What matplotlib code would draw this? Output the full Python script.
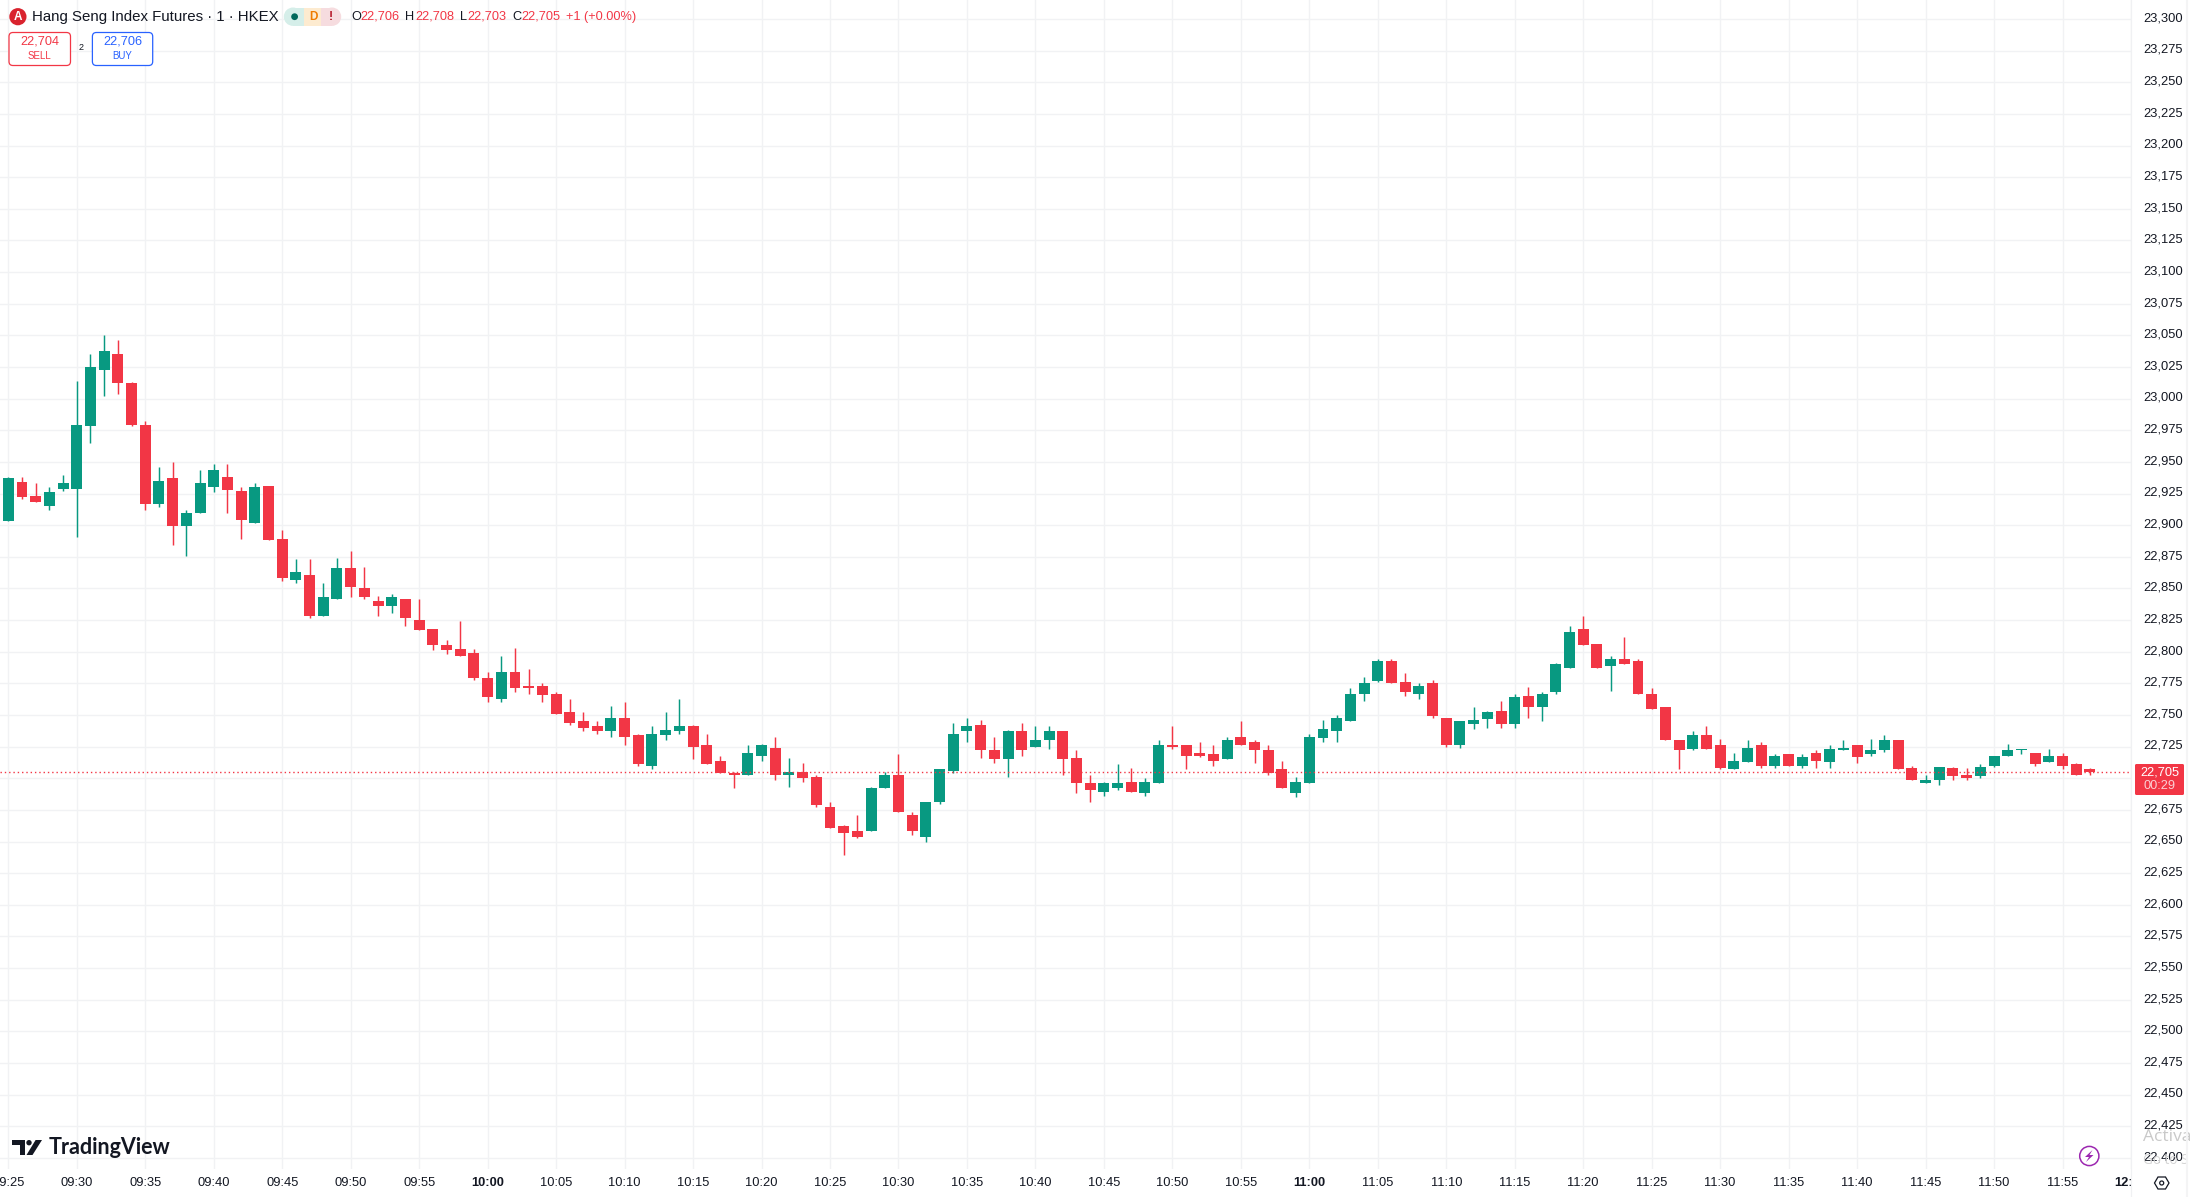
import matplotlib
matplotlib.use("Agg")
import matplotlib.pyplot as plt
from matplotlib.patches import Circle, FancyBboxPatch, Polygon, Rectangle
from matplotlib.transforms import Bbox, ScaledTranslation

opens = [22903,22934,22923,22915,22929,22929,22978,23023,23035,23012,22979,22917,22937,22899,22910,22930,22938,22927,22902,22931,
22889,22857,22861,22828,22842,22866,22850,22840,22836,22842,22825,22818,22805,22802,22799,22779,22763,22784,22773,22773,
22767,22752,22745,22741,22737,22748,22734,22710,22734,22737,22741,22726,22714,22704,22703,22718,22724,22703,22705,22701,
22677,22662,22658,22658,22692,22703,22671,22654,22681,22706,22737,22742,22722,22715,22737,22725,22730,22737,22716,22696,
22689,22692,22697,22688,22696,22726,22726,22720,22719,22715,22733,22729,22722,22707,22688,22696,22732,22737,22745,22767,
22777,22793,22776,22767,22775,22748,22726,22743,22747,22753,22743,22765,22756,22768,22787,22818,22806,22789,22794,22793,
22767,22756,22730,22723,22734,22726,22707,22713,22726,22710,22719,22710,22720,22713,22722,22726,22719,22722,22730,22708,
22696,22699,22708,22703,22702,22710,22718,22722,22720,22713,22718,22711,22707]
highs = [22938,22938,22933,22930,22940,23014,23035,23050,23046,23013,22982,22946,22950,22912,22944,22948,22948,22930,22933,22931,
22896,22873,22873,22854,22874,22880,22867,22844,22846,22842,22842,22818,22809,22824,22802,22784,22797,22803,22786,22775,
22768,22763,22752,22745,22757,22760,22735,22741,22752,22763,22742,22735,22718,22705,22726,22727,22733,22716,22712,22703,
22681,22663,22671,22693,22705,22719,22673,22681,22707,22744,22748,22746,22733,22738,22744,22741,22741,22737,22722,22703,
22697,22711,22708,22700,22730,22741,22726,22729,22726,22733,22745,22730,22726,22714,22701,22735,22746,22750,22771,22780,
22794,22794,22783,22775,22778,22748,22745,22756,22753,22761,22767,22772,22768,22791,22820,22828,22806,22797,22812,22794,
22771,22756,22730,22737,22741,22731,22720,22730,22729,22719,22719,22719,22722,22726,22730,22726,22731,22734,22730,22710,
22703,22709,22709,22708,22711,22718,22727,22723,22720,22723,22720,22712,22708]
lows = [22903,22921,22918,22912,22927,22891,22965,23002,23004,22978,22912,22914,22884,22876,22910,22926,22910,22889,22902,22888,
22856,22854,22827,22828,22842,22843,22842,22828,22831,22820,22817,22801,22798,22797,22778,22760,22760,22768,22767,22760,
22751,22742,22737,22735,22733,22726,22710,22707,22730,22735,22715,22711,22704,22692,22703,22714,22699,22693,22697,22677,
22661,22639,22653,22658,22692,22673,22655,22650,22680,22704,22729,22716,22712,22701,22718,22725,22723,22703,22688,22681,
22686,22691,22689,22686,22696,22723,22707,22717,22710,22715,22726,22712,22703,22692,22685,22696,22729,22729,22745,22761,
22776,22775,22765,22763,22748,22725,22724,22739,22740,22740,22740,22748,22745,22767,22787,22805,22787,22769,22790,22767,
22755,22730,22707,22722,22723,22707,22707,22713,22708,22708,22710,22708,22708,22708,22722,22712,22718,22721,22707,22699,
22696,22695,22699,22699,22700,22709,22718,22719,22710,22713,22707,22703,22703]
closes = [22937,22922,22918,22926,22933,22979,23025,23038,23012,22979,22917,22935,22899,22910,22933,22944,22928,22904,22930,22888,
22858,22863,22828,22843,22866,22851,22843,22836,22843,22827,22817,22805,22801,22797,22779,22764,22784,22771,22771,22766,
22751,22744,22740,22737,22748,22733,22711,22735,22738,22741,22725,22711,22704,22703,22720,22726,22703,22705,22700,22679,
22661,22657,22654,22692,22703,22673,22658,22681,22707,22735,22741,22722,22715,22737,22722,22730,22737,22715,22696,22691,
22696,22696,22689,22697,22726,22725,22718,22718,22714,22730,22726,22722,22704,22692,22697,22733,22739,22748,22767,22775,
22793,22775,22768,22773,22749,22726,22745,22746,22752,22743,22764,22756,22767,22790,22816,22805,22787,22794,22790,22767,
22755,22730,22722,22734,22723,22708,22714,22724,22710,22718,22710,22717,22714,22723,22724,22717,22722,22730,22707,22699,
22699,22709,22702,22700,22709,22718,22722,22722,22711,22718,22710,22703,22705]

time_labels = ["09:25","09:30","09:35","09:40","09:45","09:50","09:55","10:00","10:05","10:10","10:15","10:20","10:25",
"10:30","10:35","10:40","10:45","10:50","10:55","11:00","11:05","11:10","11:15","11:20","11:25","11:30","11:35","11:40",
"11:45","11:50","11:55","12:00"]
price_ticks = list(range(22400, 23325, 25))
hidden_price_label = 22700
last_price = 22705
UP, DOWN = "#089981", "#F23645"
GRID = "#f1f2f4"
TXT = "#131722"
FONT = "Liberation Sans"
NARROW = ["Liberation Sans Narrow", "Liberation Sans"]

W, H = 2190, 1197
AX_R, AX_B = 2131, 1169
PX_PER_BAR = 13.696
fig = plt.figure(figsize=(W/100, H/100), dpi=100, facecolor="white")
ax = fig.add_axes([0, 1-AX_B/H, AX_R/W, AX_B/H])
ax.set_xlim(-8.3/PX_PER_BAR, (AX_R-8.3)/PX_PER_BAR)
pp = 1.2655
ax.set_ylim(22700-(AX_B-778.3)/pp, 22700+778.3/pp)
for s in ax.spines.values():
    s.set_visible(False)
ax.set_axisbelow(True)
ax.grid(True, color=GRID, lw=1.0)

xs = list(range(len(opens)))
cols = [UP if c >= o else DOWN for o, c in zip(opens, closes)]
ax.vlines(xs, lows, highs, colors=cols, lw=1.05, zorder=2)
ax.bar(xs, [max(abs(c-o), 1) for o, c in zip(opens, closes)], bottom=[min(o, c) for o, c in zip(opens, closes)],
       width=0.8, color=cols, linewidth=0, zorder=3)
ax.axhline(last_price, color=DOWN, lw=1.0, ls=(0, (1, 2.1)), zorder=4)

ax.set_xticks(range(0, 5*len(time_labels), 5))
ax.set_xticklabels(time_labels)
ax.set_yticks(price_ticks)
ax.set_yticklabels(["" if p == hidden_price_label else f"{p:,}" for p in price_ticks])
ax.yaxis.tick_right()
ax.tick_params(axis="both", length=0, labelcolor=TXT, labelsize=9.3)
ax.tick_params(axis="x", pad=5.5)
ax.tick_params(axis="y", pad=9)
clip = Bbox([[0, 0], [AX_R+1, H]])
for lab in ax.get_xticklabels():
    lab.set_fontfamily(FONT)
    lab.set_clip_on(True)
    lab.set_clip_box(clip)
    if lab.get_text().endswith(":00"):
        lab.set_fontweight("bold")
up2 = ScaledTranslation(0, 1.6/72, fig.dpi_scale_trans)
for lab in ax.get_yticklabels():
    lab.set_fontfamily(FONT)
    lab.set_transform(lab.get_transform() + up2)

# overlay in pixel space for the TradingView interface decorations
ov = fig.add_axes([0, 0, 1, 1], zorder=10)
ov.set_xlim(0, W); ov.set_ylim(H, 0); ov.axis("off"); ov.patch.set_alpha(0)
ov.plot([AX_R, AX_R], [0, H], color="#f0f1f3", lw=0.9)
ov.plot([2187, 2187], [0, H], color="#f4f4f5", lw=1.5)

def t(x, y, s, color=TXT, size=9.2, ha="left", family=FONT, **kw):
    ov.text(x, y, s, color=color, fontsize=size, ha=ha, va="center", family=family, **kw)

# header
ov.add_patch(Circle((17.9, 16.7), 8.6, color="#d9232e", lw=0))
t(17.9, 16.7, "A", "white", 8.5, "center", FONT, fontweight="bold")
t(31.7, 16.7, "Hang Seng Index Futures · 1 · HKEX", TXT, 10.85, family=NARROW)
ov.add_patch(Circle((293, 16.7), 9.2, color="#d5eee9", lw=0))
ov.add_patch(Rectangle((293, 7.5), 11, 18.4, color="#d5eee9", lw=0))
ov.add_patch(Rectangle((303.6, 7.5), 18, 18.4, color="#fdebd0", lw=0))
ov.add_patch(Circle((332, 16.7), 9.2, color="#f6dcdf", lw=0))
ov.add_patch(Rectangle((321.4, 7.5), 10.6, 18.4, color="#f6dcdf", lw=0))
ov.add_patch(Circle((294.6, 16.7), 3.4, color="#00695c", lw=0))
t(313, 16.7, "D", "#ef7c00", 8.5, "center", FONT, fontweight="bold")
t(331, 16.7, "!", "#b71c2c", 9, "center", FONT, fontweight="bold")
for x1, letter, x2, val in [(351, "O", 360.7, "22,706"), (405.4, "H", 415, "22,708"),
                            (460, "L", 467.4, "22,703"), (512, "C", 521.4, "22,705")]:
    t(x1, 16.7, letter, TXT)
    t(x2, 16.7, val, DOWN)
t(566, 16.7, "+1 (+0.00%)", DOWN)

# sell / buy
for x0, x1, c, p, lbl in [(9, 70.5, DOWN, "22,704", "SELL"), (92.4, 152.7, "#2962FF", "22,706", "BUY")]:
    ov.add_patch(FancyBboxPatch((x0, 32.5), x1-x0, 33, boxstyle="round,pad=0,rounding_size=4",
                                fc="white", ec=c, lw=0.9))
    t((x0+x1)/2, 41.5, p, c, 9.2, "center")
    t((x0+x1)/2, 56, lbl, c, 7, "center")
t(81, 48, "2", TXT, 6.5, "center")

# last price tag
ov.add_patch(FancyBboxPatch((2135, 764), 49, 31, boxstyle="round,pad=0,rounding_size=1.5", color=DOWN, lw=0))
t(2159.5, 772.5, "22,705", "white", 9.2, "center", FONT)
t(2159.5, 786, "00:29", "#fbd0d4", 9.2, "center", FONT)

# logo
INK = "#131722"
ov.add_patch(Polygon([(12, 1140), (25.3, 1140), (25.3, 1155), (20, 1155), (20, 1145.2), (12, 1145.2)], color=INK, lw=0))
ov.add_patch(Circle((29, 1142.7), 2.7, color=INK, lw=0))
ov.add_patch(Polygon([(35.6, 1140), (42, 1140), (32.5, 1155), (26.5, 1155)], color=INK, lw=0))
t(49, 1148, "TradingView", INK, 15.5, family="Lato", fontweight="bold")

# corner icons
ov.add_patch(Circle((2089.3, 1156), 9.6, fc="white", ec="#9c27b0", lw=1.1))
ov.add_patch(Polygon([(2092.5, 1150), (2085, 1157), (2089, 1157), (2086, 1162), (2093.5, 1155), (2089.5, 1155)],
                     color="#9c27b0", lw=0))
ov.add_patch(Polygon([(2154.5, 1183), (2158, 1177), (2165.5, 1177), (2169, 1183), (2165.5, 1189), (2158, 1189)],
                     fc="white", ec=TXT, lw=0.9))
ov.add_patch(Circle((2161.7, 1183), 2, fc="white", ec=TXT, lw=0.9))

# OS watermark
ov.text(2143, 1137, "Activa", color="#c9c9c9", fontsize=12.5, family="Open Sans", va="center", zorder=0)
ov.text(2143, 1160, "Go to S", color="#d5d5d5", fontsize=9.8, family="Open Sans", va="center", zorder=0)

fig.savefig("out.png", dpi=100, facecolor="white")
